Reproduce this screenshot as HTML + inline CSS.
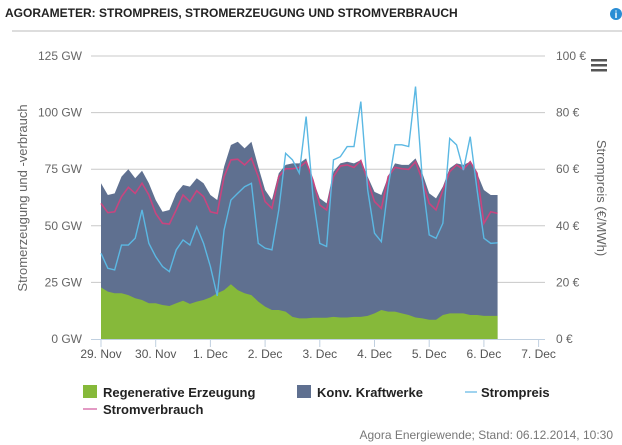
<!DOCTYPE html>
<html><head><meta charset="utf-8"><style>
body{margin:0;background:#fff;font-family:"Liberation Sans",sans-serif;}
#wrap{position:relative;width:622px;height:445px;overflow:hidden;}
</style></head><body>
<div id="wrap">
<svg id="svg" width="622" height="445" xmlns="http://www.w3.org/2000/svg">
<text x="5" y="17" font-size="12" font-weight="bold" fill="#222">AGORAMETER: STROMPREIS, STROMERZEUGUNG UND STROMVERBRAUCH</text>
<line x1="12" y1="31" x2="622" y2="31" stroke="#bbb"/>
<g><circle cx="616" cy="14" r="6" fill="#2a8dd4"/><text x="616" y="18" font-size="10" font-weight="bold" fill="#fff" text-anchor="middle">i</text></g>
<g><rect x="591" y="59" width="16" height="2.5" fill="#555"/><rect x="591" y="64" width="16" height="2.5" fill="#555"/><rect x="591" y="69" width="16" height="2.5" fill="#555"/></g>
<g id="grid"></g><g id="plot"></g><g id="axes"></g>
<text transform="translate(27,198) rotate(-90)" font-size="13" fill="#666" text-anchor="middle">Stromerzeugung und -verbrauch</text>
<text transform="translate(597,198) rotate(90)" font-size="13" fill="#666" text-anchor="middle">Strompreis (€/MWh)</text>
<g>
<g><rect x="83" y="385" width="14" height="13" fill="#86b93a"/><text x="103" y="397" font-size="13" font-weight="bold" fill="#222">Regenerative Erzeugung</text></g>
<g><rect x="297" y="385" width="14" height="13" fill="#5f7090"/><text x="317" y="397" font-size="13" font-weight="bold" fill="#222">Konv. Kraftwerke</text></g>
<g><line x1="465" y1="392" x2="477" y2="392" stroke="#9fd3ef" stroke-width="2"/><text x="481" y="397" font-size="13" font-weight="bold" fill="#222">Strompreis</text></g>
<g><line x1="83" y1="409" x2="97" y2="409" stroke="#e39ac4" stroke-width="2"/><text x="103" y="414" font-size="13" font-weight="bold" fill="#222">Stromverbrauch</text></g>
</g>
<text x="613" y="439" font-size="12" fill="#777" text-anchor="end">Agora Energiewende; Stand: 06.12.2014, 10:30</text>
</svg>
</div>
<script>
const dayLabels=["29. Nov","30. Nov","1. Dec","2. Dec","3. Dec","4. Dec","5. Dec","6. Dec","7. Dec"];
const leftTicks=[0,25,50,75,100,125];
const rightTicks=[0,20,40,60,80,100];
const stepHours=3;
const total=[68.8,63.6,64.3,71.7,75,71,74.3,68.8,61.4,56.2,57,64.3,68,67.3,71,68.8,63.6,61.4,76.1,85.7,87.1,84.2,87.1,76.1,65.8,61.4,73.2,76.9,77.6,77.6,79.8,70.2,62.1,59.9,73.9,77.6,78.3,77.6,79,71.7,65,63.6,71.7,77.6,76.9,76.9,79.8,73.2,64.3,62.1,67.3,75.4,77.6,76.9,78.3,73.2,65.8,63.6,63.6];
const renewable=[22.8,20.9,20.2,20.2,19.4,18,17.2,15.8,15.8,15,14.6,15.8,16.9,15.5,16.5,17.2,18.4,20.2,21.6,24.2,21.6,20.2,19.4,16.5,14.3,12.8,12.8,12.1,9.8,9.1,9.1,9.4,9.4,9.4,9.8,9.5,9.5,9.8,9.8,10.2,11.3,12.8,12.1,12.1,11.3,10.6,9.5,9.1,8.5,8.5,10.6,11.3,11.3,11.3,10.6,10.6,10.2,10.2,10.2];
const consumption=[59.9,55.8,56.2,62.9,67,64.3,68.8,63.6,55.5,51.1,50.8,57,63.6,60.7,65.5,62.9,56.2,55.5,71.7,79.1,79.4,76.9,79.8,71.7,60.7,57.7,71.7,75.2,75.2,75.8,78.3,70.2,59.2,57,71.7,76.4,76.9,75.8,78.8,70.2,60.7,57.7,71.7,75.8,75.2,74.9,78.3,70.2,59.9,57,65.8,73.9,76.9,74.9,78.3,73.2,51.1,56.2,55.5];
const price=[30.3,25,24.4,33.2,33.2,35.6,45.6,33.8,29.1,25.6,23.8,31.5,35,33.2,39.7,33.8,25.6,15.2,38.5,49.1,51.5,53.8,55,33.8,32.1,31.5,45.6,65.6,63.3,58.6,78.6,50.3,33.8,32.7,63.3,64.4,68,68,83.9,52.7,37.4,34.4,53.8,68.6,68.6,68,89.2,56.2,36.8,35.6,40.9,70.9,68.6,59.7,71.5,52.7,35.6,33.8,34];

const NS="http://www.w3.org/2000/svg";
const X0=101,DAY=54.7,Y0=339,YTOP=56;
const xH=h=>X0+h/24*DAY;
const yGW=v=>Y0-(v/125)*(Y0-YTOP);
const yEUR=v=>Y0-(v/100)*(Y0-YTOP);
function mk(tag,attrs,parent){const e=document.createElementNS(NS,tag);for(const k in attrs)e.setAttribute(k,attrs[k]);parent.appendChild(e);return e;}
const grid=document.getElementById('grid'),plot=document.getElementById('plot'),axes=document.getElementById('axes');
leftTicks.forEach((t,i)=>{
  const y=yGW(t);
  if(i>0){const l=mk('line',{x1:91,x2:545,y1:y,y2:y,stroke:'#c8c8c8','stroke-width':1},grid);
  
  }
  const tx=mk('text',{x:82,y:y+4,'font-size':12,fill:'#666','text-anchor':'end'},axes);tx.textContent=t+' GW';
  
  
});
rightTicks.forEach(t=>{
  const y=yEUR(t);
  const tx=mk('text',{x:556,y:y+4,'font-size':12,fill:'#666'},axes);tx.textContent=t+' €';
  
  
});
const n=total.length;
let pts=i=>xH(i*stepHours);
let dTot='M'+pts(0)+','+Y0;for(let i=0;i<n;i++)dTot+=' L'+pts(i)+','+yGW(total[i]);dTot+=' L'+pts(n-1)+','+Y0+' Z';
const a1=mk('path',{d:dTot,fill:'#5f7090'},plot);


let dRen='M'+pts(0)+','+Y0;for(let i=0;i<n;i++)dRen+=' L'+pts(i)+','+yGW(renewable[i]);dRen+=' L'+pts(n-1)+','+Y0+' Z';
const a2=mk('path',{d:dRen,fill:'#86b93a'},plot);


let dC='';for(let i=0;i<n;i++)dC+=(i?' L':'M')+pts(i)+','+yGW(consumption[i]);
const l1=mk('path',{d:dC,fill:'none',stroke:'#c8457f','stroke-width':1.6},plot);


let dP='';for(let i=0;i<n;i++)dP+=(i?' L':'M')+pts(i)+','+yEUR(price[i]);
const l2=mk('path',{d:dP,fill:'none',stroke:'#5bb8e3','stroke-width':1.4},plot);


const ax=mk('line',{x1:91,x2:545,y1:Y0+0.5,y2:Y0+0.5,stroke:'#c0d0e0','stroke-width':1},axes);


dayLabels.forEach((d,i)=>{
  const x=xH(i*24);
  const tk=mk('line',{x1:x,x2:x,y1:Y0,y2:Y0+8,stroke:'#c0d0e0'},axes);
  
  
  const tx=mk('text',{x:x,y:Y0+19,'font-size':12,fill:'#555','text-anchor':'middle'},axes);tx.textContent=d;
  
  
});
</script>
</body></html>
